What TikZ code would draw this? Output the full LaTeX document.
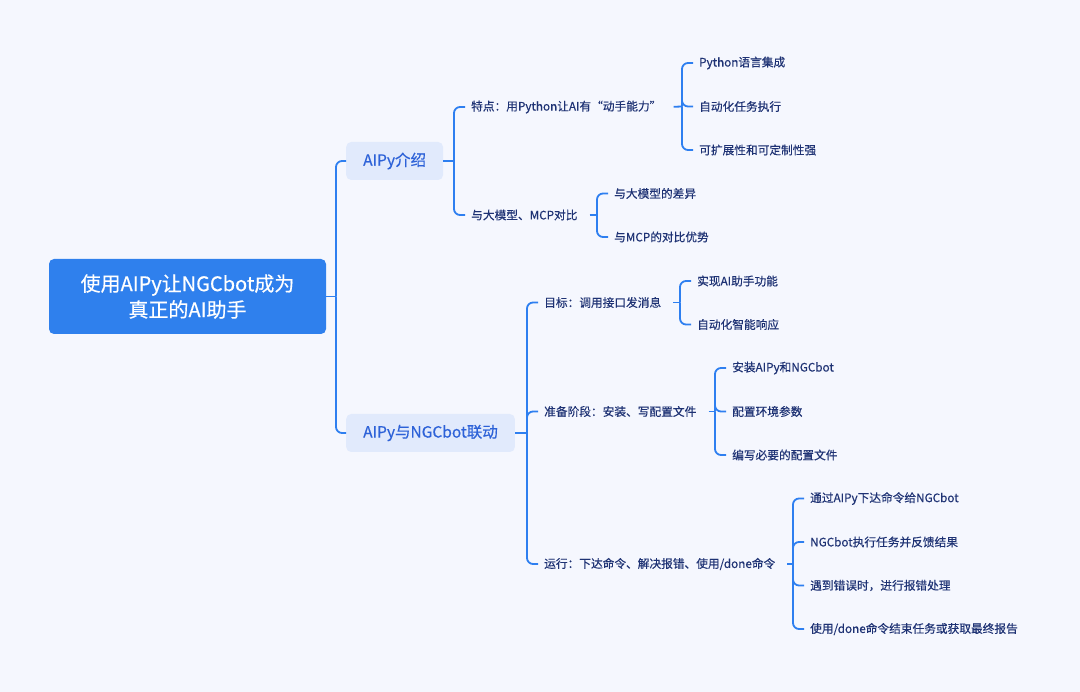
\documentclass[tikz,border=0pt]{standalone}
\usepackage{fontspec}
\newfontfamily\cjk[FakeBold=0.4]{Noto Sans CJK SC}
\definecolor{bgcolor}{HTML}{F5F7FE}
\definecolor{rootblue}{HTML}{2F80ED}
\definecolor{topicfill}{HTML}{E1EAFC}
\definecolor{topicblue}{HTML}{2D62D8}
\definecolor{itemblue}{HTML}{1E3274}
\definecolor{lineblue}{HTML}{2E7FF0}
\tikzstyle{rootbox} = [rectangle, fill=rootblue, text=white, rounded corners=5pt, minimum width=277pt, minimum height=75pt, align=center, font=\cjk\fontsize{20}{26}\selectfont]
\tikzstyle{topic} = [rectangle, fill=topicfill, text=topicblue, rounded corners=5pt, minimum height=38pt, inner xsep=17pt, anchor=west, font=\cjk\fontsize{15.5}{18}\selectfont]
\tikzstyle{item} = [inner xsep=6pt, inner ysep=2pt, anchor=west, text=itemblue, font=\cjk\fontsize{11.7}{14}\selectfont]
\tikzstyle{connector} = [line width=1.8pt, draw=lineblue, rounded corners=6pt]
\tikzstyle{stub} = [connector, shorten <=6pt]

\begin{document}
\begin{tikzpicture}[x=1pt,y=-1pt]
        \fill[bgcolor] (0,0) rectangle (1080,692);
        % root and the two topics
        \node (root) [rootbox] at (187.5,296.5) {使用AIPy让NGCbot成为\\真正的AI助手};
        \node (intro) [topic] at (346,161) {AIPy介绍};
        \node (link) [topic] at (346,433) {AIPy与NGCbot联动};
        % AIPy介绍
        \node (feature) [item] at (465,107) {特点：用Python让AI有“动手能力”};
        \node (compare) [item] at (465,215) {与大模型、MCP对比};
        \node (python) [item] at (693,63) {Python语言集成};
        \node (auto-task) [item] at (693,106.5) {自动化任务执行};
        \node (extend) [item] at (693,150) {可扩展性和可定制性强};
        \node (diff) [item] at (608,193.5) {与大模型的差异};
        \node (mcp) [item] at (608,237) {与MCP的对比优势};
        % AIPy与NGCbot联动
        \node (goal) [item] at (538,302.5) {目标：调用接口发消息};
        \node (prepare) [item] at (538,411.5) {准备阶段：安装、写配置文件};
        \node (run) [item] at (538,564) {运行：下达命令、解决报错、使用/done命令};
        \node (assistant) [item] at (691,281) {实现AI助手功能};
        \node (auto-reply) [item] at (691,324.5) {自动化智能响应};
        \node (install) [item] at (726,368) {安装AIPy和NGCbot};
        \node (env) [item] at (726,411.5) {配置环境参数};
        \node (config) [item] at (726,455) {编写必要的配置文件};
        \node (command) [item] at (804,498.5) {通过AIPy下达命令给NGCbot};
        \node (feedback) [item] at (804,542) {NGCbot执行任务并反馈结果};
        \node (error) [item] at (804,585.5) {遇到错误时，进行报错处理};
        \node (done) [item] at (804,629) {使用/done命令结束任务或获取最终报告};
        % junctions
        \coordinate (j-root) at (336,296.5);
        \coordinate (j-intro) at (454,161);
        \coordinate (j-link) at (527,433);
        \coordinate (j-feature) at (682,106.5);
        \coordinate (j-compare) at (597,215);
        \coordinate (j-goal) at (680,302.5);
        \coordinate (j-prepare) at (715,411.5);
        \coordinate (j-run) at (793,564);
        % connectors
        \draw [connector] (root.east) -- (j-root);
        \draw [connector] (j-root) |- (intro.west);
        \draw [connector] (j-root) |- (link.west);
        \draw [connector] (intro.east) -- (j-intro);
        \draw [connector] (j-intro) |- (feature.west);
        \draw [connector] (j-intro) |- (compare.west);
        \draw [stub] (feature.east) -- (j-feature);
        \draw [connector] (j-feature) |- (python.west);
        \draw [connector] (j-feature) |- (auto-task.west);
        \draw [connector] (j-feature) |- (extend.west);
        \draw [stub] (compare.east) -- (j-compare);
        \draw [connector] (j-compare) |- (diff.west);
        \draw [connector] (j-compare) |- (mcp.west);
        \draw [connector] (link.east) -- (j-link);
        \draw [connector] (j-link) |- (goal.west);
        \draw [connector] (j-link) |- (prepare.west);
        \draw [connector] (j-link) |- (run.west);
        \draw [stub] (goal.east) -- (j-goal);
        \draw [connector] (j-goal) |- (assistant.west);
        \draw [connector] (j-goal) |- (auto-reply.west);
        \draw [stub] (prepare.east) -- (j-prepare);
        \draw [connector] (j-prepare) |- (install.west);
        \draw [connector] (j-prepare) |- (env.west);
        \draw [connector] (j-prepare) |- (config.west);
        \draw [stub] (run.east) -- (j-run);
        \draw [connector] (j-run) |- (command.west);
        \draw [connector] (j-run) |- (feedback.west);
        \draw [connector] (j-run) |- (error.west);
        \draw [connector] (j-run) |- (done.west);
    \end{tikzpicture}
\end{document}
